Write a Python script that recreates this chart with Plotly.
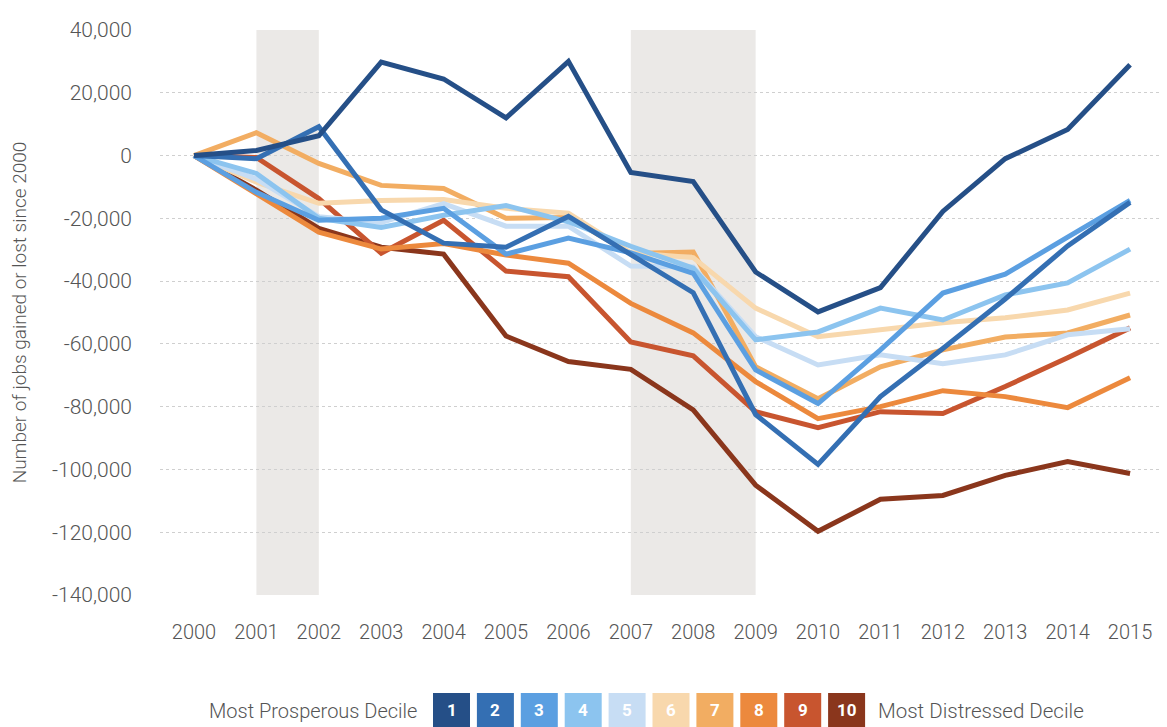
import plotly.graph_objects as go

years = list(range(2000, 2016))

decile_1 = [0, 1600, 6300, 29800, 24400, 12000, 30000, -5400, -8300, -37100, -49800, -42100, -17800, -1000, 8300, 28900]
decile_2 = [0, -1000, 9200, -17300, -27900, -29200, -19400, -31500, -43700, -82500, -98400, -76800, -61500, -45700, -28800, -14900]
decile_3 = [0, -11700, -20600, -20000, -16800, -31400, -26300, -31000, -37500, -68300, -79000, -61900, -43800, -37800, -26000, -14300]
decile_4 = [0, -5700, -20000, -22900, -19000, -15900, -21100, -28900, -35900, -58700, -56200, -48600, -52400, -44400, -40600, -29800]
decile_5 = [0, -7500, -19500, -21300, -15300, -22500, -22500, -35200, -35500, -57700, -66700, -63500, -66300, -63500, -57100, -55200]
decile_6 = [0, -8500, -15200, -14300, -14000, -16800, -18400, -31000, -32500, -48600, -57700, -55600, -53300, -51700, -49200, -43800]
decile_7 = [0, 7300, -2500, -9500, -10500, -20000, -19700, -31200, -30700, -67300, -77500, -67300, -61900, -57800, -56500, -50800]
decile_8 = [0, -12000, -24400, -29800, -28000, -31700, -34300, -47100, -56500, -72000, -83800, -80000, -74900, -76800, -80300, -70800]
decile_9 = [0, -600, -13700, -31100, -20600, -36800, -38600, -59400, -63800, -81600, -86700, -81600, -82200, -73600, -64400, -54900]
decile_10 = [0, -11000, -23200, -29200, -31400, -57500, -65600, -68100, -81000, -105000, -119700, -109500, -108300, -101900, -97500, -101300]

series = [decile_1, decile_2, decile_3, decile_4, decile_5,
          decile_6, decile_7, decile_8, decile_9, decile_10]
decile_labels = ["1", "2", "3", "4", "5", "6", "7", "8", "9", "10"]
colors = ["#254f87", "#346fb3", "#5b9fe1", "#8cc4ef", "#c7ddf4",
          "#f8d8ad", "#f2ad62", "#ec893d", "#c8552f", "#8a361c"]

recessions = [(2001, 2002), (2007, 2009)]
y_ticks = [40000, 20000, 0, -20000, -40000, -60000, -80000, -100000, -120000, -140000]

FONT = "Roboto, sans-serif"
TXT = "#555555"

# plot area in pixels (for legend placement in paper coordinates)
PL, PR, PT, PB = 160, 1160, 30, 595


def px_x(p):
    return (p - PL) / (PR - PL)


def px_y(p):
    return (PB - p) / (PB - PT)


fig = go.Figure()

for x0, x1 in recessions:
    fig.add_shape(type="rect", xref="x", yref="y", x0=x0, x1=x1,
                  y0=min(y_ticks), y1=max(y_ticks),
                  fillcolor="#ebe9e7", line_width=0, layer="below")

for label, vals, col in reversed(list(zip(decile_labels, series, colors))):
    fig.add_trace(go.Scatter(x=years, y=vals, mode="lines", name=label,
                             line=dict(color=col, width=5),
                             showlegend=False))

# legend boxes
box_w = 37
gap = 43.9
start = 433
top_px, bot_px = 693, 727
for i, (label, col) in enumerate(zip(decile_labels, colors)):
    x0 = start + i * gap
    fig.add_shape(type="rect", xref="paper", yref="paper",
                  x0=px_x(x0), x1=px_x(x0 + box_w), y0=px_y(bot_px), y1=px_y(top_px),
                  fillcolor=col, line_width=0)
    fig.add_annotation(xref="paper", yref="paper", x=px_x(x0 + box_w / 2),
                       y=px_y((top_px + bot_px) / 2), text="<b>" + label + "</b>",
                       showarrow=False,
                       font=dict(family="Roboto, sans-serif", size=17, color="white"),
                       xanchor="center", yanchor="middle")

fig.add_annotation(xref="paper", yref="paper", x=px_x(419), y=px_y(711),
                   text="Most Prosperous Decile", showarrow=False,
                   xanchor="right", yanchor="middle",
                   font=dict(family=FONT, size=20, color=TXT, weight=300))
fig.add_annotation(xref="paper", yref="paper", x=px_x(876), y=px_y(711),
                   text="Most Distressed Decile", showarrow=False,
                   xanchor="left", yanchor="middle",
                   font=dict(family=FONT, size=20.5, color=TXT, weight=300))

fig.update_layout(
    width=1167, height=727,
    margin=dict(l=PL, r=1167 - PR, t=PT, b=727 - PB, autoexpand=False),
    paper_bgcolor="white", plot_bgcolor="white",
    font=dict(family=FONT, color=TXT),
    xaxis=dict(range=[1999.455, 2015.48], tickmode="array", tickvals=years,
               ticktext=[str(y) for y in years], showgrid=False, zeroline=False,
               showline=False, ticks="", ticklabelstandoff=23,
               tickfont=dict(family=FONT, size=20, color=TXT, weight=300)),
    yaxis=dict(range=[-140000, 40000], tickmode="array", tickvals=y_ticks,
               ticktext=[f"{v:,}" for v in y_ticks], showgrid=True,
               gridcolor="#cfcfcf", griddash="dot", gridwidth=1,
               zeroline=False, showline=False, ticks="", ticklabelstandoff=27,
               tickfont=dict(family=FONT, size=21, color=TXT, weight=300),
               title=dict(text="Number of jobs gained or lost since 2000", standoff=20,
                          font=dict(family=FONT, size=19, color=TXT, weight=300))),
)

fig.write_html("out.html", config={"displayModeBar": False},
               post_script="document.body.style.margin='0';document.body.style.padding='0';")
